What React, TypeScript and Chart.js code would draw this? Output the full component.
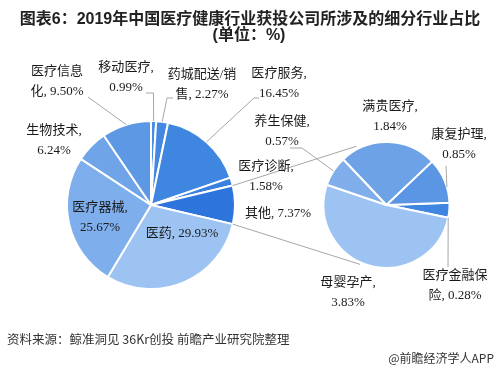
import React, { useEffect, useRef } from 'react';
import { Chart, registerables } from 'chart.js';

Chart.register(...registerables);

// ---------- data ----------
const mainCategories = ['移动医疗', '药城配送/销售', '医疗服务', '医疗诊断', '其他', '医药', '医疗器械', '生物技术', '医疗信息化'];
const mainValues = [0.99, 2.27, 16.45, 1.58, 7.37, 29.93, 25.67, 6.24, 9.5];
const subCategories = ['医疗金融保险', '母婴孕产', '养生保健', '满贵医疗', '康复护理'];
const subValues = [0.28, 3.83, 0.57, 1.84, 0.85];

const titleLines = ['图表6：2019年中国医疗健康行业获投公司所涉及的细分行业占比', '(单位：%)'];
const sourceText = '资料来源：鲸准洞见 36Kr创投 前瞻产业研究院整理';
const brandText = '@前瞻经济学人APP';

// ---------- styles / layout ----------
const mainColors = ['#4A8CE2', '#4488E1', '#3F86E0', '#3A80DF', '#2D75DC', '#9DC3F3', '#7EAEEB', '#70A4E8', '#5D98E4'];
const subColors = ['#3F86E0', '#9DC3F3', '#80AEEB', '#6DA2E7', '#5A96E3'];

// label text lines per slice, and text-center x / first line y
const mainLabelLines = [
  ['移动医疗,', '0.99%'],
  ['药城配送/销', '售, 2.27%'],
  ['医疗服务,', '16.45%'],
  ['医疗诊断,', '1.58%'],
  ['其他, 7.37%'],
  ['医药, 29.93%'],
  ['医疗器械,', '25.67%'],
  ['生物技术,', '6.24%'],
  ['医疗信息', '化, 9.50%'],
];
const mainLabelPos = [
  [126, 68], [202, 75], [279, 74], [266, 167], [278, 214], [182, 234], [100, 208], [54, 131], [57, 72],
];
const subLabelLines = [
  ['医疗金融保', '险, 0.28%'],
  ['母婴孕产,', '3.83%'],
  ['养生保健,', '0.57%'],
  ['满贵医疗,', '1.84%'],
  ['康复护理,', '0.85%'],
];
const subLabelPos = [
  [455, 276], [348, 283], [282, 122], [390, 107], [459, 135],
];
// leader lines: label-side points, then point on arc at given fraction of slice
const mainLeaders: { idx: number; pts: number[][]; frac: number }[] = [
  { idx: 8, pts: [[88, 97]], frac: 0.5 },
  { idx: 0, pts: [[146, 93], [153.5, 93]], frac: 0.5 },
  { idx: 1, pts: [[173, 98], [167, 98]], frac: 0.5 },
  { idx: 2, pts: [[259, 98], [254, 98]], frac: 0.5 },
];
const subLeaders: { idx: number; pts: number[][]; frac: number }[] = [
  { idx: 2, pts: [[290, 148], [302, 148]], frac: 0.5 },
  { idx: 4, pts: [[446, 166]], frac: 0.65 },
  { idx: 0, pts: [[448, 267]], frac: 1.0 },
];

const LABEL_FONT = '13px "Liberation Serif", "Noto Sans CJK SC", serif';
const LINE_H = 20;

function arcPoint(el: any, frac: number, extra = 0) {
  const a = el.startAngle + (el.endAngle - el.startAngle) * frac;
  const r = el.outerRadius + extra;
  return [el.x + Math.cos(a) * r, el.y + Math.sin(a) * r];
}

export default function App() {
  const mainRef = useRef<HTMLCanvasElement>(null);
  const subRef = useRef<HTMLCanvasElement>(null);

  useEffect(() => {
    const mainChart = new Chart(mainRef.current!, {
      type: 'pie',
      data: {
        labels: mainCategories,
        datasets: [
          {
            data: mainValues,
            backgroundColor: mainColors,
            borderColor: '#ffffff',
            borderWidth: 2,
            radius: 84,
          } as any,
        ],
      },
      options: {
        responsive: false,
        animation: false,
        events: [],
        rotation: 0,
        layout: { padding: { left: 67, right: 264, top: 121, bottom: 81 } },
        plugins: { legend: { display: false }, tooltip: { enabled: false } },
      },
    });

    const overlay = {
      id: 'overlay',
      afterDraw(chart: any) {
        const ctx: CanvasRenderingContext2D = chart.ctx;
        const mainArcs = mainChart.getDatasetMeta(0).data as any[];
        const subArcs = chart.getDatasetMeta(0).data as any[];
        ctx.save();

        // series connector lines
        const other = mainArcs[4];
        const sub0 = subArcs[0];
        const cx = sub0.x, cy = sub0.y, R = sub0.outerRadius;
        const p1 = arcPoint(other, 0);
        const p2 = arcPoint(other, 1);
        const a1 = (-117 * Math.PI) / 180;
        const a2 = (114 * Math.PI) / 180;
        ctx.strokeStyle = '#a6a6a6';
        ctx.lineWidth = 1;
        ctx.beginPath();
        ctx.moveTo(p1[0], p1[1]);
        ctx.lineTo(cx + Math.cos(a1) * (R + 3), cy + Math.sin(a1) * (R + 3));
        ctx.moveTo(p2[0], p2[1]);
        ctx.lineTo(cx + Math.cos(a2) * (R + 2), cy + Math.sin(a2) * (R + 2));
        ctx.stroke();

        // leader lines
        const drawLeaders = (arcs: any[], leaders: typeof mainLeaders) => {
          leaders.forEach((l) => {
            const end = arcPoint(arcs[l.idx], l.frac, 0);
            ctx.beginPath();
            ctx.moveTo(l.pts[0][0], l.pts[0][1]);
            for (let i = 1; i < l.pts.length; i++) ctx.lineTo(l.pts[i][0], l.pts[i][1]);
            ctx.lineTo(end[0], end[1]);
            ctx.stroke();
          });
        };
        drawLeaders(mainArcs, mainLeaders);
        drawLeaders(subArcs, subLeaders);

        // labels
        ctx.fillStyle = '#1a1a1a';
        ctx.font = LABEL_FONT;
        ctx.textAlign = 'center';
        ctx.textBaseline = 'middle';
        const drawLabels = (lines: string[][], pos: number[][]) => {
          lines.forEach((ls, i) => {
            ls.forEach((t, j) => ctx.fillText(t, pos[i][0], pos[i][1] + j * LINE_H));
          });
        };
        drawLabels(mainLabelLines, mainLabelPos);
        drawLabels(subLabelLines, subLabelPos);

        // title
        ctx.fillStyle = '#222222';
        ctx.font = 'bold 16px "Liberation Sans", "Noto Sans CJK SC", sans-serif';
        ctx.fillText(titleLines[0], 250, 20);
        ctx.fillText(titleLines[1], 249, 36);

        // source & brand
        ctx.fillStyle = '#333333';
        ctx.font = '12.5px "Noto Sans CJK SC", "Liberation Sans", sans-serif';
        ctx.textAlign = 'left';
        ctx.fillText(sourceText, 7, 339);
        ctx.textAlign = 'right';
        ctx.font = '12px "Noto Sans CJK SC", "Liberation Sans", sans-serif';
        ctx.fillText(brandText, 494, 358);
        ctx.restore();
      },
    };

    const subChart = new Chart(subRef.current!, {
      type: 'pie',
      data: {
        labels: subCategories,
        datasets: [
          {
            data: subValues,
            backgroundColor: subColors,
            borderColor: '#ffffff',
            borderWidth: 2,
            radius: 63,
          } as any,
        ],
      },
      options: {
        responsive: false,
        animation: false,
        events: [],
        rotation: 88,
        layout: { padding: { left: 324, right: 50, top: 142, bottom: 102 } },
        plugins: { legend: { display: false }, tooltip: { enabled: false } },
      },
      plugins: [overlay],
    });

    return () => {
      subChart.destroy();
      mainChart.destroy();
    };
  }, []);

  return (
    <div style={{ position: 'fixed', left: 0, top: 0, width: 499, height: 370, background: '#ffffff' }}>
      <canvas ref={mainRef} width={499} height={370} style={{ position: 'absolute', left: 0, top: 0 }} />
      <canvas ref={subRef} width={499} height={370} style={{ position: 'absolute', left: 0, top: 0 }} />
    </div>
  );
}
